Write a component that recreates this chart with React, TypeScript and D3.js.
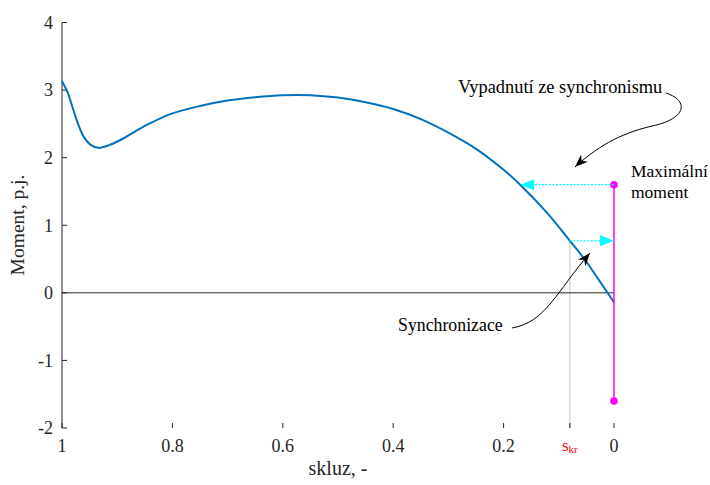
import React from "react";
import * as d3 from "d3";

const slip = [1.0, 0.99, 0.98, 0.97, 0.96, 0.948, 0.934, 0.915, 0.89, 0.865, 0.84, 0.8, 0.75, 0.7, 0.65, 0.6, 0.55, 0.5, 0.45, 0.4, 0.35, 0.3, 0.25, 0.2, 0.17, 0.122, 0.08, 0.05, 0.025, 0];
const moment = [3.13, 2.97, 2.72, 2.48, 2.3, 2.19, 2.145, 2.185, 2.28, 2.4, 2.51, 2.655, 2.765, 2.845, 2.895, 2.925, 2.925, 2.89, 2.82, 2.72, 2.57, 2.37, 2.13, 1.82, 1.6, 1.19, 0.77, 0.46, 0.16, -0.14];

const yTicks = [-2, -1, 0, 1, 2, 3, 4];
const xTicks = [1, 0.8, 0.6, 0.4, 0.2, 0];
const sKr = 0.08;
const mMax = 1.6;
const mMaxPointS = 0.17;
const mSync = 0.77;
const mMin = -1.6;

const FONT = "'Liberation Serif', 'Times New Roman', serif";
const AX = "#262626";

function arrowHead(tipX: number, tipY: number, ang: number, len: number, half: number, notch: number) {
  const c = Math.cos(ang), s = Math.sin(ang);
  const bx = tipX - c * len, by = tipY - s * len;
  const p1 = [bx - s * half, by + c * half];
  const p2 = [bx + s * half, by - c * half];
  const nx = tipX - c * (len - notch), ny = tipY - s * (len - notch);
  return `M${tipX},${tipY}L${p1[0]},${p1[1]}L${nx},${ny}L${p2[0]},${p2[1]}Z`;
}

export default function App() {
  const x = d3.scaleLinear().domain([1, 0]).range([62, 614]);
  const y = d3.scaleLinear().domain([-2, 4]).range([428, 22.5]);
  const pts: [number, number][] = slip.map((s, i) => [x(s), y(moment[i])]);
  const line = d3.line().curve(d3.curveCatmullRom.alpha(0.5))(pts) || "";

  const a1 = "M666,93 C690,101 686,119 652,126 C618,134 596,148 575,167";
  const a1ang = Math.atan2(167 - 153, 575 - 590);
  const a2 = "M512,328 C546,322 556,292 590,253";
  const a2ang = Math.atan2(253 - 266, 590 - 579);

  return (
    <svg width={710} height={485} style={{ position: "absolute", left: 0, top: 0, background: "#fff" }} fontFamily={FONT}>
      <line x1={x(sKr)} x2={x(sKr)} y1={y(mSync)} y2={428} stroke="#d9d9d9" strokeWidth={1.5} />
      <line x1={62} x2={x(0)} y1={y(0)} y2={y(0)} stroke={AX} strokeWidth={1} />
      <line x1={62} x2={62} y1={22.5} y2={428} stroke={AX} strokeWidth={1} />
      {yTicks.map((t) => (
        <g key={"y" + t}>
          <line x1={62} x2={67} y1={y(t)} y2={y(t)} stroke={AX} />
          <text x={53} y={y(t)} dy="0.35em" textAnchor="end" fontSize={18} fill={AX}>{t}</text>
        </g>
      ))}
      {[...xTicks, sKr].map((t) => (
        <line key={"xt" + t} x1={x(t)} x2={x(t)} y1={428} y2={423} stroke={AX} />
      ))}
      {xTicks.map((t) => (
        <text key={"xl" + t} x={x(t)} y={452} textAnchor="middle" fontSize={18} fill={AX}>{String(t)}</text>
      ))}
      <text x={x(sKr)} y={451} textAnchor="middle" fontSize={17} fill="#ff0000">
        s<tspan fontSize={11} dy={2}>kr</tspan>
      </text>
      <text x={338} y={475} textAnchor="middle" fontSize={20} fill={AX}>skluz, -</text>
      <text transform={`translate(24,225) rotate(-90)`} textAnchor="middle" fontSize={19.5} fill={AX}>Moment, p.j.</text>

      <path d={line} fill="none" stroke="#0072BD" strokeWidth={2} />

      <line x1={x(0)} x2={x(0)} y1={y(mMax)} y2={y(mMin)} stroke="#ff00ff" strokeWidth={1.5} />
      <circle cx={x(0)} cy={y(mMax)} r={3.8} fill="#ff00ff" />
      <circle cx={x(0)} cy={y(mMin)} r={3.8} fill="#ff00ff" />

      <line x1={x(0)} x2={x(mMaxPointS) + 12} y1={y(mMax)} y2={y(mMax)} stroke="#00ffff" strokeWidth={1.3} strokeDasharray="2,1.5" />
      <path d={arrowHead(x(mMaxPointS), y(mMax), Math.PI, 14, 5.5, 0)} fill="#00ffff" />
      <line x1={x(sKr)} x2={x(0) - 12} y1={y(mSync)} y2={y(mSync)} stroke="#00ffff" strokeWidth={1.3} strokeDasharray="2,1.5" />
      <path d={arrowHead(x(0), y(mSync), 0, 14, 5.5, 0)} fill="#00ffff" />

      <path d={a1} fill="none" stroke="#000" strokeWidth={1} />
      <path d={arrowHead(575, 167, a1ang, 13, 5, 4)} fill="#000" />
      <path d={a2} fill="none" stroke="#000" strokeWidth={1} />
      <path d={arrowHead(590, 253, a2ang, 13, 5, 4)} fill="#000" />

      <text x={458} y={93} fontSize={18.4} fill="#000">Vypadnutí ze synchronismu</text>
      <text x={631} y={177} fontSize={17.5} fill="#000">Maximální</text>
      <text x={631} y={198} fontSize={17.5} fill="#000">moment</text>
      <text x={398} y={331} fontSize={17.8} fill="#000">Synchronizace</text>
    </svg>
  );
}
